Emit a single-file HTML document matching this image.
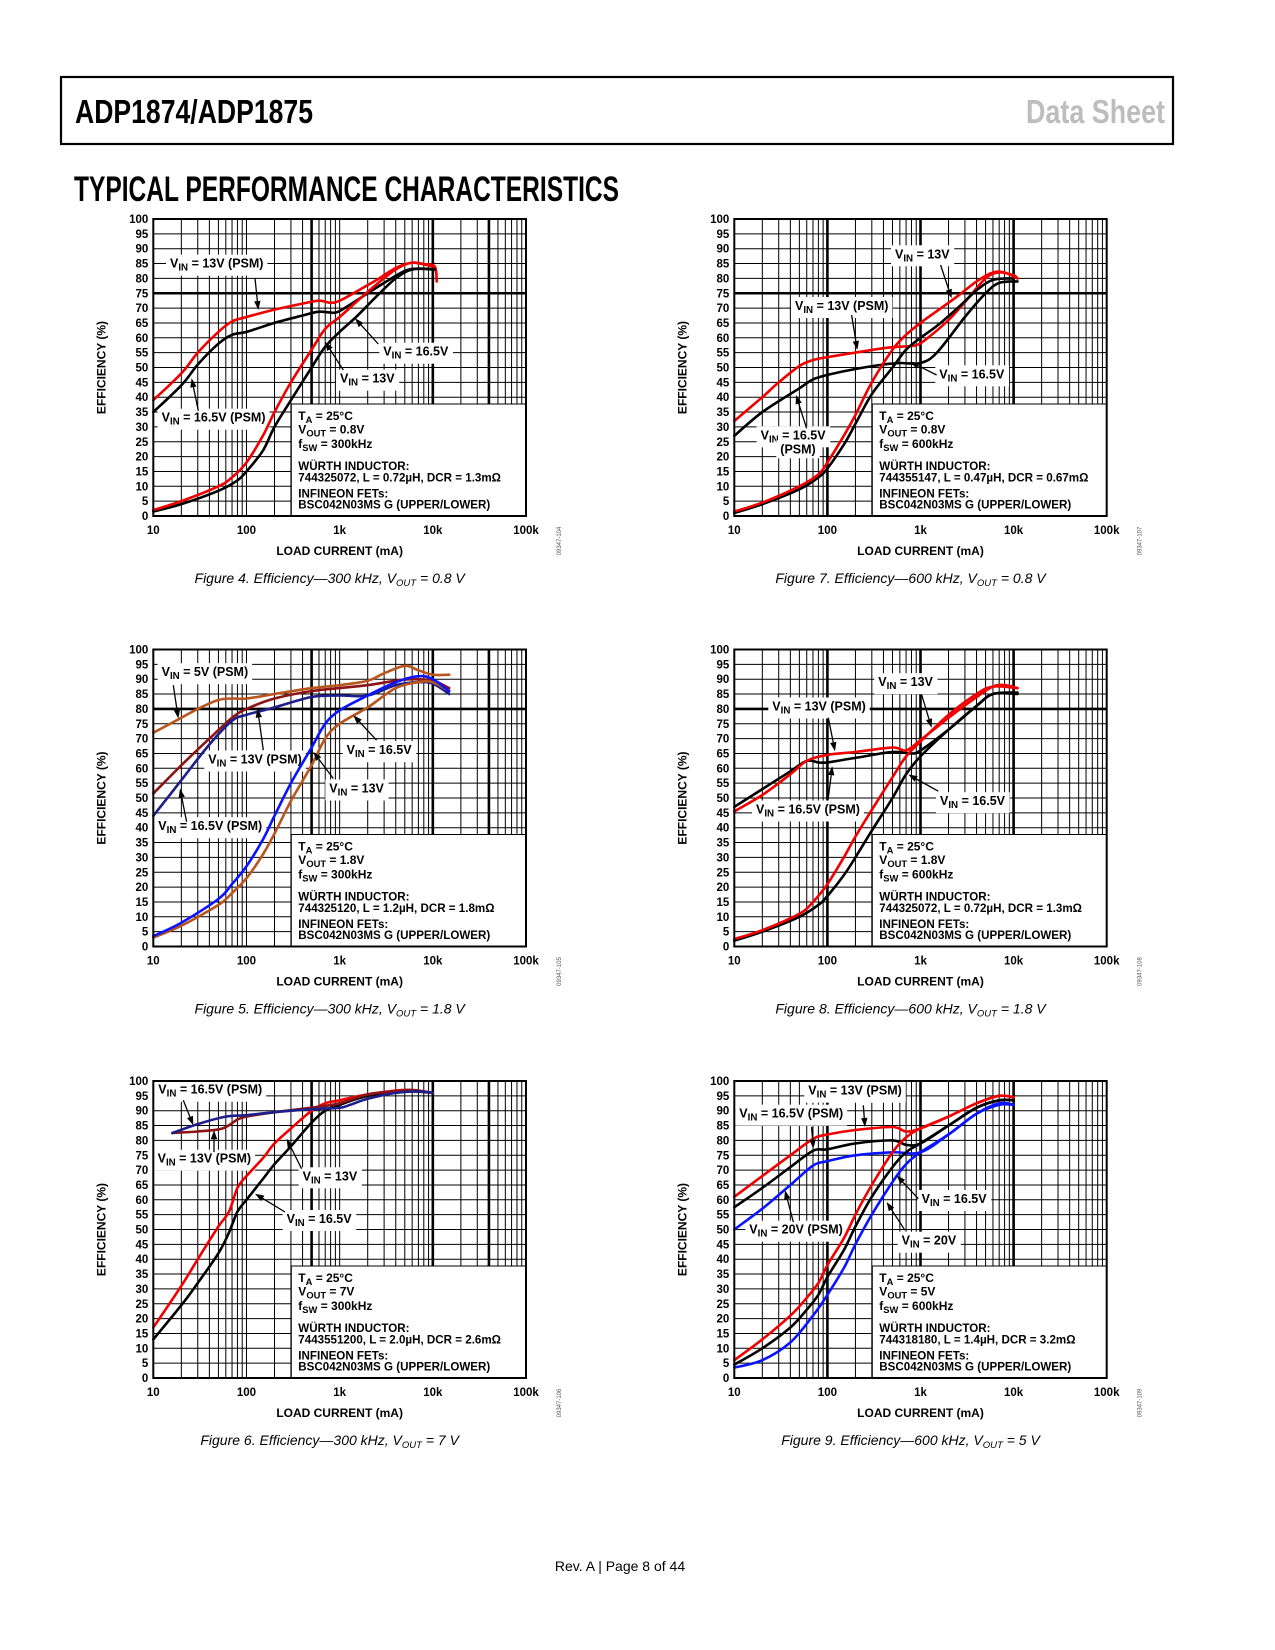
<!DOCTYPE html>
<html><head><meta charset="utf-8"><style>
html,body{margin:0;padding:0;background:#fff;}
svg{display:block;}
.b{font-family:"Liberation Sans",sans-serif;font-weight:bold;}
</style></head><body>
<svg id="page" xmlns="http://www.w3.org/2000/svg" width="1275" height="1650" viewBox="0 0 1275 1650">
<rect x="0" y="0" width="1275" height="1650" fill="#fff"/>
<rect x="61" y="77" width="1112" height="67" fill="none" stroke="#000" stroke-width="2.2"/>
<text x="75" y="123" font-family="'Liberation Sans Narrow','Liberation Sans',sans-serif" font-weight="bold" font-size="33" textLength="238" lengthAdjust="spacingAndGlyphs">ADP1874/ADP1875</text>
<text x="1026" y="123" fill="#bdbdbd" font-family="'Liberation Sans Narrow','Liberation Sans',sans-serif" font-weight="bold" font-size="33" textLength="139" lengthAdjust="spacingAndGlyphs">Data Sheet</text>
<text x="74" y="201" font-family="'Liberation Sans Narrow','Liberation Sans',sans-serif" font-weight="bold" font-size="35" textLength="545" lengthAdjust="spacingAndGlyphs">TYPICAL PERFORMANCE CHARACTERISTICS</text>
<text x="620" y="1571" text-anchor="middle" font-family="'Liberation Sans',sans-serif" font-size="14">Rev. A | Page 8 of 44</text>
</svg>
<script>
// ===== Figure 4 data =====
const f4_psm13_i=[10,20,30,50,70,100,200,400,600,800,1000,1500,2500,4000,6000,8000,10500,11000];
const f4_psm13_e=[39,48,55,62,65.5,67,69.5,71.5,72.5,71.8,72.5,75.5,79.5,83.5,85.3,84.8,84,79];
const f4_psm165_i=[10,20,30,50,70,100,200,400,600,900,1200,2000,3000,5000,7000,10500];
const f4_psm165_e=[35,44,51,58,61,62,65,67.5,68.8,68.5,70.5,75,78.5,82.5,83.3,83];
const f4_v13_i=[10,20,50,70,100,150,200,300,500,700,1000,1500,2500,4000,6000,10000];
const f4_v13_e=[2,5,10,13,18,27,35,45,56,63,67,72,78,83,85.3,84];
const f4_v165_i=[10,20,50,80,100,150,200,300,500,700,1000,1500,2500,4000,6000,10500];
const f4_v165_e=[1.5,4,8.5,12,15,22,30,39,50,57,62,67,74,80,83,83];
// ===== Figure 7 data =====
const f7_psm13_i=[10,20,30,50,70,100,200,400,600,900,1200,2000,3000,5000,7000,10000,11000];
const f7_psm13_e=[32,40,45,50.5,52.5,53.5,55,56.5,57,57.5,60,66,72,80,82,81,80];
const f7_psm165_i=[10,20,50,70,100,200,400,600,1000,1500,3000,5000,7000,11000];
const f7_psm165_e=[27,35,43,46,47.5,49.5,51,51.5,51.5,55,67,75,78.5,79];
const f7_v13_i=[10,20,50,80,100,150,200,300,500,700,1000,1500,2500,4000,6000,8000,11000];
const f7_v13_e=[1.5,4.5,10,14,18,27,34,45,56,61,65,69,74,79,82,82,80];
const f7_v165_i=[10,20,50,80,100,150,200,300,500,700,1000,1500,2500,4000,6000,10000];
const f7_v165_e=[1,4,9,13,16,24,31,41,50,56,60,64,70,76,79.5,80];
// ===== Figure 5 data =====
const f5_psm5_i=[10,20,30,50,70,100,200,500,1000,2000,3000,5000,7000,10000,15000];
const f5_psm5_e=[72,77,80,83,83.5,83.5,85,87,88,89.5,92,94.5,93,91.5,91.5];
const f5_psm13_i=[10,20,40,70,100,200,500,1000,2000,4000,6000,10000,15000];
const f5_psm13_e=[51.5,61,70,77,80,83.5,86,87,88,89.5,90,89.5,87];
const f5_psm165_i=[10,20,40,70,100,200,500,1000,2000,4000,7000,10000,15000];
const f5_psm165_e=[44,56,68,76,78,80.5,84,84.5,84.5,88,89,88.5,85];
const f5_v13_i=[10,20,50,70,100,150,200,300,500,700,1000,2000,4000,7000,10000,15000];
const f5_v13_e=[3.5,8,16,21,27,36,44,55,67,75,79.5,84.5,89,91,90,86];
const f5_v165_i=[10,20,50,70,100,150,200,300,500,700,1000,2000,4000,7000,10000,15000];
const f5_v165_e=[3,7,14,18,23,31,38,49,61,70,75,80.5,87,89,89,86];
// ===== Figure 8 data =====
const f8_psm13_i=[10,20,40,60,100,200,500,700,1000,2000,4000,6000,8000,11000];
const f8_psm13_e=[45.5,51,58,62.5,64.5,65.5,67,66,69.5,77,84,87.5,88,87];
const f8_psm165_i=[10,20,40,60,80,100,200,500,800,1000,2000,4000,6000,11000];
const f8_psm165_e=[47,53,59,62.5,62,62,63.5,65.5,65,66,73,81,85,85.5];
const f8_v13_i=[10,20,50,70,100,150,200,300,500,700,1000,2000,4000,6000,11000];
const f8_v13_e=[2.5,5.5,11,15,21,30,37,46,57,64,69,78,85,87.5,87];
const f8_v165_i=[10,20,50,80,100,150,200,300,500,700,1000,2000,4000,6000,11000];
const f8_v165_e=[2,5,10,14,17,24,30,39,50,58,64,73,81,85,85];
// ===== Figure 6 data =====
const f6_psm165_i=[16,30,60,100,200,500,1000,1300,2000,4000,7000,10000];
const f6_psm165_e=[82.5,85.5,88,88.5,89.5,90.5,91,92,94,96,96.5,96];
const f6_psm13_i=[16,30,55,80,100,200,500,1000,2000,4000,6000,10000];
const f6_psm13_e=[82.5,83,84,87,88,89.5,91,92.5,95.5,96.5,97,96];
const f6_v13_i=[10,20,30,50,65,80,100,150,200,300,500,700,1000,2000,5000,10000];
const f6_v13_e=[17,31,40,51,56,64,68,74,79,84,90,92.5,93.5,95.5,97,96];
const f6_v165_i=[10,20,30,50,65,80,100,150,200,300,500,700,1000,2000,5000,10000];
const f6_v165_e=[13,24.5,32,42,49,56,60,67,72,78,86,90,92,95,96.5,96];
// ===== Figure 9 data =====
const f9_psm13_i=[10,20,40,70,100,200,500,700,1000,2000,4000,7000,10000];
const f9_psm13_e=[61,68,75,80.5,82,83.5,84.5,83,84,88,92.5,95,94.5];
const f9_psm165_i=[10,20,40,70,100,200,500,700,1000,2000,4000,7000,10000];
const f9_psm165_e=[57.5,64,71,76.5,77,79,80,78.5,79,85,91,93.5,93.5];
const f9_psm20_i=[10,20,40,70,100,200,500,1000,2000,4000,7000,10000];
const f9_psm20_e=[50,57,65,71.5,73,75,76,76,82,89,92,92];
const f9_v13_i=[10,20,40,60,80,100,150,200,300,500,700,1000,2000,4000,7000,10000];
const f9_v13_e=[6,13,21,27,32,38,47,55,65,76,81,84,88,92.5,95,94.5];
const f9_v165_i=[10,20,40,60,80,100,150,200,300,500,700,1000,2000,4000,7000,10000];
const f9_v165_e=[4.5,10,17,23,28,34,43,51,61,71,76,79,85,91,93.5,93.5];
const f9_v20_i=[10,20,40,70,100,150,200,300,500,700,1000,2000,4000,7000,10000];
const f9_v20_e=[3.5,6,12,21,28,37,45,55,66,72,76,82,89,92.5,92];
// ===== shared axis tick labels =====
const yTicks=[0,5,10,15,20,25,30,35,40,45,50,55,60,65,70,75,80,85,90,95,100];
const xTickVals=[10,100,1000,10000,100000];
const xTickLabels=['10','100','1k','10k','100k'];

const RED='#f00000',BLK='#000',NAVY='#1e1e8a',BLUE='#0a14ff',DRED='#8c1414',BRN='#b8561e';
const NS='http://www.w3.org/2000/svg';
const svg=document.getElementById('page');
function mk(tag,attrs,parent){const e=document.createElementNS(NS,tag);for(const k in attrs)e.setAttribute(k,attrs[k]);parent.appendChild(e);return e;}

const charts=[
 {id:'fig4',L:153.3,T:219,W:372.7,H:297,vTh:[500,10000,40000],hTh:[75],
  ref:'09347-104',cap:['Figure 4. Efficiency—300 kHz, V','OUT',' = 0.8 V'],
  series:[[f4_psm165_i,f4_psm165_e,BLK],[f4_psm13_i,f4_psm13_e,RED],[f4_v165_i,f4_v165_e,BLK],[f4_v13_i,f4_v13_e,RED]],
  info:['25','0.8V','300kHz','744325072, L = 0.72µH, DCR = 1.3mΩ'],
  labels:[[16.7,48.7,' = 13V (PSM)'],[230,136.7,' = 16.5V'],[186.7,163.7,' = 13V'],[8.3,202.7,' = 16.5V (PSM)']],
  arrows:[[101.7,59.3,105,91],[225,125,201.7,99.3],[190,151,171.7,122.7],[45,191.7,38.3,159.3]]},
 {id:'fig7',L:734.3,T:219,W:372.4,H:297,vTh:[100,1000,10000],hTh:[75],
  ref:'09347-107',cap:['Figure 7. Efficiency—600 kHz, V','OUT',' = 0.8 V'],
  series:[[f7_psm165_i,f7_psm165_e,BLK],[f7_psm13_i,f7_psm13_e,RED],[f7_v165_i,f7_v165_e,BLK],[f7_v13_i,f7_v13_e,RED]],
  info:['25','0.8V','600kHz','744355147, L = 0.47µH, DCR = 0.67mΩ'],
  labels:[[160.7,39.3,' = 13V'],[60.7,91,' = 13V (PSM)'],[205,159.3,' = 16.5V'],[26.3,220.3,' = 16.5V'],[46,234.3,'(PSM)',true]],
  arrows:[[206.3,46,217.3,79.3],[117.3,96,123,131],[202.3,156,175.7,142.7],[72.3,209.3,61.7,176]]},
 {id:'fig5',L:153.3,T:649.5,W:372.7,H:297,vTh:[500,10000,40000],hTh:[80],
  ref:'09347-105',cap:['Figure 5. Efficiency—300 kHz, V','OUT',' = 1.8 V'],
  series:[[f5_psm5_i,f5_psm5_e,BRN],[f5_psm13_i,f5_psm13_e,DRED],[f5_psm165_i,f5_psm165_e,NAVY],[f5_v165_i,f5_v165_e,BRN],[f5_v13_i,f5_v13_e,BLUE]],
  info:['25','1.8V','300kHz','744325120, L = 1.2µH, DCR = 1.8mΩ'],
  labels:[[8.3,26.7,' = 5V (PSM)'],[55,114,' = 13V (PSM)'],[193.3,104.7,' = 16.5V'],[176,143,' = 13V'],[5,180.7,' = 16.5V (PSM)']],
  arrows:[[20,35.7,25,69],[110,100.7,104.3,59],[223.3,90.7,200,65.7],[180,129,160,102.3],[33.3,172.3,26.7,139]]},
 {id:'fig8',L:734.3,T:649.5,W:372.4,H:297,vTh:[100,1000,10000],hTh:[80],
  ref:'09347-108',cap:['Figure 8. Efficiency—600 kHz, V','OUT',' = 1.8 V'],
  series:[[f8_psm165_i,f8_psm165_e,BLK],[f8_psm13_i,f8_psm13_e,RED],[f8_v165_i,f8_v165_e,BLK],[f8_v13_i,f8_v13_e,RED]],
  info:['25','1.8V','600kHz','744325072, L = 0.72µH, DCR = 1.3mΩ'],
  labels:[[144,36.7,' = 13V'],[38,61,' = 13V (PSM)'],[21.7,164,' = 16.5V (PSM)'],[205.7,155.7,' = 16.5V']],
  arrows:[[187.3,45,197.3,78.3],[94,68.3,100.7,101.7],[94,148.3,98,116.7],[204,141.7,174,125]]},
 {id:'fig6',L:153.3,T:1081,W:372.7,H:297,vTh:[500,10000,40000],hTh:[],
  ref:'09347-106',cap:['Figure 6. Efficiency—300 kHz, V','OUT',' = 7 V'],
  series:[[f6_v165_i,f6_v165_e,BLK],[f6_v13_i,f6_v13_e,RED],[f6_psm13_i,f6_psm13_e,DRED],[f6_psm165_i,f6_psm165_e,NAVY]],
  info:['25','7V','300kHz','7443551200, L = 2.0µH, DCR = 2.6mΩ'],
  labels:[[5,12.7,' = 16.5V (PSM)'],[4.3,81.7,' = 13V (PSM)'],[149.3,99.3,' = 13V'],[133.3,142,' = 16.5V']],
  arrows:[[30,19.3,40,44.3],[60.7,71,60.7,49.3],[148.3,87.7,133.3,57.7],[131.7,131,101.7,112.7]]},
 {id:'fig9',L:734.3,T:1081,W:372.4,H:297,vTh:[100,1000,10000],hTh:[],
  ref:'09347-109',cap:['Figure 9. Efficiency—600 kHz, V','OUT',' = 5 V'],
  series:[[f9_psm20_i,f9_psm20_e,BLUE],[f9_psm165_i,f9_psm165_e,BLK],[f9_psm13_i,f9_psm13_e,RED],[f9_v20_i,f9_v20_e,BLUE],[f9_v165_i,f9_v165_e,BLK],[f9_v13_i,f9_v13_e,RED]],
  info:['25','5V','600kHz','744318180, L = 1.4µH, DCR = 3.2mΩ'],
  labels:[[74,13.7,' = 13V (PSM)'],[5,36.7,' = 16.5V (PSM)'],[15,152.7,' = 20V (PSM)'],[187.3,122,' = 16.5V'],[167.3,163.7,' = 20V']],
  arrows:[[129,24.3,130.7,46],[77.3,46,79,67.7],[59,141,50.7,109.3],[184,117.7,162.3,94.3],[170.7,149.3,152.3,121]]}
];

function curvePath(pts){
  let d='M'+pts[0][0].toFixed(1)+','+pts[0][1].toFixed(1);
  for(let i=0;i<pts.length-1;i++){
    const p0=pts[Math.max(0,i-1)],p1=pts[i],p2=pts[i+1],p3=pts[Math.min(pts.length-1,i+2)];
    const c1x=p1[0]+(p2[0]-p0[0])/6,c1y=p1[1]+(p2[1]-p0[1])/6;
    const c2x=p2[0]-(p3[0]-p1[0])/6,c2y=p2[1]-(p3[1]-p1[1])/6;
    d+=' C'+c1x.toFixed(1)+','+c1y.toFixed(1)+' '+c2x.toFixed(1)+','+c2y.toFixed(1)+' '+p2[0].toFixed(1)+','+p2[1].toFixed(1);
  }
  return d;
}

function subText(parent,x,y,main,sub,rest,size,anchor){
  const t=mk('text',{x:x,y:y,'font-size':size,'text-anchor':anchor||'start'},parent);
  t.setAttribute('class','b');
  const a=mk('tspan',{},t);a.textContent=main;
  const b=mk('tspan',{dy:3,'font-size':size*0.78},t);b.textContent=sub;
  const c=mk('tspan',{dy:-3},t);c.textContent=rest;
  return t;
}

charts.forEach(c=>{
  const g=mk('g',{},svg);
  
  
  const L=c.L,T=c.T,W=c.W,H=c.H,B=T+H,R=L+W;
  const xs=v=>L+(Math.log10(v)-1)/4*W;
  const ys=v=>B-v/100*H;
  const grid=mk('g',{stroke:'#000','stroke-width':1},g);
  
  
  for(let d=1;d<=4;d++)for(let m=1;m<=9;m++){const x=xs(m*Math.pow(10,d));mk('line',{x1:x,y1:T,x2:x,y2:B},grid);}
  yTicks.forEach(v=>{mk('line',{x1:L,y1:ys(v),x2:R,y2:ys(v)},grid);});
  c.vTh.forEach(v=>{mk('line',{x1:xs(v),y1:T,x2:xs(v),y2:B,'stroke-width':2.6},grid);});
  c.hTh.forEach(v=>{mk('line',{x1:L,y1:ys(v),x2:R,y2:ys(v),'stroke-width':2.6},grid);});
  const ib=mk('rect',{x:L+138,y:T+185,width:W-138,height:H-185,fill:'#fff'},g);
  
  
  mk('line',{x1:L+138,y1:T+185,x2:L+138,y2:B,stroke:'#000','stroke-width':1},g);
  mk('line',{x1:L+138,y1:T+185,x2:R,y2:T+185,stroke:'#000','stroke-width':1},g);
  const ix=L+145;
  const i1=subText(g,ix,T+201,'T','A',' = '+c.info[0]+'°C',12);
  
  
  const i2=subText(g,ix,T+214.5,'V','OUT',' = '+c.info[1],12);
  
  
  const i3=subText(g,ix,T+229,'f','SW',' = '+c.info[2],12);
  
  
  const lines=[[251,'WÜRTH INDUCTOR:'],[262.7,c.info[3]],[278.7,'INFINEON FETs:'],[289.3,'BSC042N03MS G (UPPER/LOWER)']];
  lines.forEach(ln=>{const t=mk('text',{x:ix,y:T+ln[0],'font-size':11.6},g);t.setAttribute('class','b');t.textContent=ln[1];
    
    });
  c.labels.forEach(lb=>{
    let t;
    if(lb[3]){t=mk('text',{x:L+lb[0],y:T+lb[1],'font-size':12.5},g);t.setAttribute('class','b');t.textContent=lb[2];}
    else t=subText(g,L+lb[0],T+lb[1],'V','IN',lb[2],12.5);
    
    
    const bb=t.getBBox();
    const r=document.createElementNS(NS,'rect');
    r.setAttribute('x',bb.x-4);r.setAttribute('y',bb.y-2);r.setAttribute('width',bb.width+8);r.setAttribute('height',bb.height+4);r.setAttribute('fill','#fff');
    g.insertBefore(r,t);
  });
  c.series.forEach(s=>{
    const pts=s[0].map((v,k)=>[xs(v),ys(s[1][k])]);
    const p=mk('path',{d:curvePath(pts),fill:'none',stroke:s[2],'stroke-width':2.6,'stroke-linejoin':'round','stroke-linecap':'round'},g);
    
    
  });
  c.arrows.forEach(a=>{
    const x1=L+a[0],y1=T+a[1],x2=L+a[2],y2=T+a[3];
    const ag=mk('g',{},g);
    
    
    const ang=Math.atan2(y2-y1,x2-x1),hl=9,hw=3.2;
    const bx=x2-hl*Math.cos(ang),by=y2-hl*Math.sin(ang);
    mk('line',{x1:x1,y1:y1,x2:bx,y2:by,stroke:'#000','stroke-width':1.3},ag);
    mk('polygon',{points:x2+','+y2+' '+(bx+hw*Math.sin(ang))+','+(by-hw*Math.cos(ang))+' '+(bx-hw*Math.sin(ang))+','+(by+hw*Math.cos(ang)),fill:'#000'},ag);
  });
  const bd=mk('rect',{x:L,y:T,width:W,height:H,fill:'none',stroke:'#000','stroke-width':2},g);
  
  
  yTicks.forEach(v=>{const t=mk('text',{x:L-5,y:ys(v)+4,'text-anchor':'end','font-size':11.5},g);t.setAttribute('class','b');t.textContent=v;
    
    });
  xTickVals.forEach((v,k)=>{const t=mk('text',{x:xs(v),y:B+18,'text-anchor':'middle','font-size':11.5},g);t.setAttribute('class','b');t.textContent=xTickLabels[k];
    
    });
  const xt=mk('text',{x:L+W/2,y:B+39,'text-anchor':'middle','font-size':12},g);xt.setAttribute('class','b');xt.textContent='LOAD CURRENT (mA)';
  
  
  const yx=L-48,yy=T+H/2;
  const yt=mk('text',{x:yx,y:yy,'text-anchor':'middle','font-size':12,transform:'rotate(-90 '+yx+' '+yy+')'},g);yt.setAttribute('class','b');yt.textContent='EFFICIENCY (%)';
  
  
  const rx=R+35,ry=B+25;
  const rt=mk('text',{x:rx,y:ry,'text-anchor':'middle','font-size':6,fill:'#555','font-family':'Liberation Sans, sans-serif',transform:'rotate(-90 '+rx+' '+ry+')'},g);rt.textContent=c.ref;
  
  
  const cap=mk('text',{x:L+W/2-10,y:B+67,'text-anchor':'middle','font-size':14,'font-style':'italic','font-family':'Liberation Sans, sans-serif'},g);
  
  
  const c1=mk('tspan',{},cap);c1.textContent=c.cap[0];
  const c2=mk('tspan',{dy:3,'font-size':9.5},cap);c2.textContent=c.cap[1];
  const c3=mk('tspan',{dy:-3},cap);c3.textContent=c.cap[2];
});
</script>
</body></html>
